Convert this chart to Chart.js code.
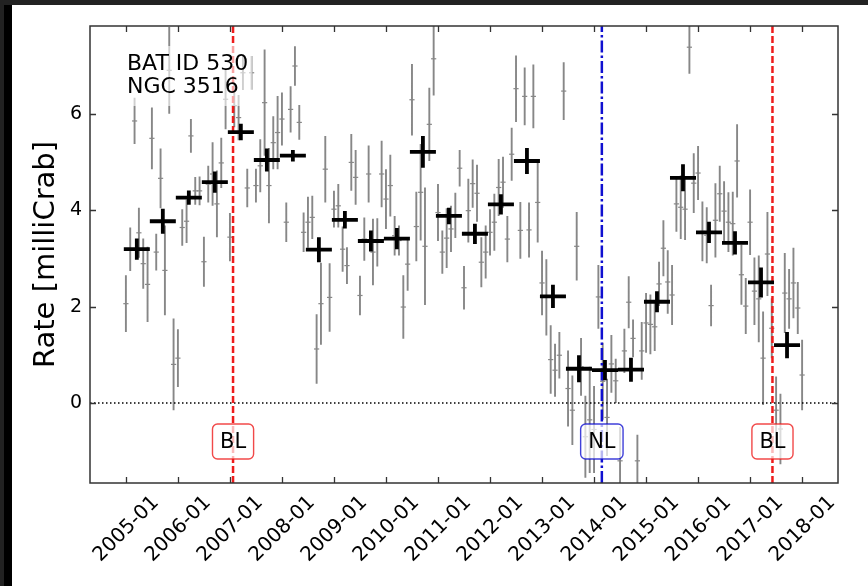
<!DOCTYPE html>
<html>
<head>
<meta charset="utf-8">
<script src="https://cdn.jsdelivr.net/npm/chart.js@4.4.1/dist/chart.umd.min.js"></script>
<style>
  html, body { margin: 0; padding: 0; background: #fff; }
  #wrap { position: relative; width: 868px; height: 586px; overflow: hidden; background: #fff; }
  .edge { position: absolute; }
  #topEdge { left: 0; top: 0; width: 868px; height: 5px; background: #222; }
  #leftEdge { left: 0; top: 0; width: 4px; height: 586px; background: #222; }
  #leftBar { left: 4px; top: 5px; width: 8px; height: 581px; background: #000; }
  canvas { position: absolute; left: 0; top: 0; }
</style>
</head>
<body>
<div id="wrap">
  <div class="edge" id="topEdge"></div>
  <div class="edge" id="leftEdge"></div>
  <div class="edge" id="leftBar"></div>
  <canvas id="lightCurve" width="868" height="586"></canvas>
</div>
<script>
const FONT = "'DejaVu Sans', 'Liberation Sans', sans-serif";

// monthly rates, first month is 2005-01
const monthStart = 2005.0;
const monthRate = [
  2.06, 3.19, 5.85, 3.53, 2.89, 2.46, 5.49, 3.13, 4.66, 2.75, 6.90, 0.80,
  0.93, 3.64, 3.77, 5.54, 4.40, 4.40, 2.93, 4.54, 4.75, 4.13, 4.98, 6.30,
  3.44, 6.17, 5.92, 6.85, 4.46, 6.85, 4.51, 4.92, 6.23, 4.51, 5.40, 5.61,
  5.89, 3.75, 6.09, 6.99, 5.82, 3.54, 3.75, 3.85, 1.12, 2.06, 4.85, 2.19,
  4.02, 4.09, 3.19, 2.85, 4.99, 4.68, 2.23, 3.40, 4.75, 3.13, 3.33, 4.75,
  4.23, 4.51, 3.47, 3.37, 1.99, 2.88, 6.29, 3.66, 4.37, 3.25, 5.78, 7.14,
  3.95, 3.13, 3.42, 3.61, 3.89, 4.87, 2.39, 3.99, 4.55, 4.35, 2.92, 3.13,
  3.54, 3.75, 4.47, 4.58, 3.40, 5.16, 6.52, 3.58, 6.36, 3.59, 6.36, 4.16,
  2.49, 2.19, 0.90, 0.68, 0.99, 6.47, 0.30, -0.15, 3.25, 0.75, -0.70, -0.35,
  -0.55, 2.20, 0.45, -0.30, 0.81, 0.46, -1.20, 1.08, 2.09, 1.34, -1.20, 1.08,
  1.66, 1.63, 1.58, 2.47, 3.21, 2.51, 2.24, 4.13, 4.06, 4.02, 7.38, 4.56,
  4.77, 3.56, 3.48, 2.02, 3.79, 4.34, 3.98, 3.75, 3.72, 5.02, 2.66, 2.01,
  3.75, 2.32, 2.16, 0.93, 3.09, 1.55, -0.15, -0.54, 2.28, 2.16, 2.49, 1.97,
  0.58
];
const monthErr = [
  0.59, 0.45, 0.48, 0.52, 0.52, 0.78, 0.64, 0.38, 0.62, 0.93, 0.90, 0.95,
  0.60, 0.38, 0.45, 0.35, 0.29, 0.30, 0.52, 0.38, 0.66, 0.69, 0.52, 0.62,
  0.50, 0.45, 0.47, 0.36, 0.40, 0.35, 0.35, 0.55, 1.10, 0.78, 0.55, 0.76,
  0.55, 0.41, 0.48, 0.41, 0.36, 0.41, 0.53, 0.45, 0.72, 0.85, 0.69, 0.71,
  0.38, 0.45, 0.47, 0.38, 0.59, 0.57, 0.41, 0.45, 0.59, 0.69, 0.50, 0.69,
  0.62, 0.64, 0.41, 0.31, 0.66, 0.55, 0.74, 0.72, 1.00, 1.22, 0.76, 0.76,
  0.59, 0.45, 0.62, 0.48, 0.47, 0.38, 0.45, 0.66, 0.50, 0.59, 0.52, 0.55,
  0.48, 0.59, 0.59, 0.53, 0.48, 0.55, 0.69, 0.59, 0.60, 0.57, 0.66, 0.83,
  0.67, 0.79, 0.71, 0.55, 0.48, 0.60, 0.79, 0.72, 0.71, 0.60, 0.85, 1.10,
  0.90, 0.66, 0.80, 0.80, 0.60, 0.46, 0.70, 0.46, 0.54, 0.39, 0.54, 0.60,
  0.62, 0.62, 0.50, 0.46, 0.58, 0.66, 0.62, 0.58, 0.66, 0.64, 0.55, 0.62,
  0.56, 0.62, 0.58, 0.43, 0.77, 0.58, 0.62, 0.62, 0.66, 0.76, 0.62, 0.58,
  0.68, 0.70, 0.90, 0.97, 0.87, 0.62, 0.70, 0.73, 0.83, 0.62, 0.73, 0.54,
  0.73
];

// six-month averages (bin centre in decimal years)
const binYear = [
  2005.21, 2005.71, 2006.21, 2006.71, 2007.21, 2007.71, 2008.21, 2008.71,
  2009.21, 2009.71, 2010.21, 2010.71, 2011.21, 2011.71, 2012.21, 2012.71,
  2013.21, 2013.71, 2014.21, 2014.71, 2015.21, 2015.71, 2016.21, 2016.71,
  2017.21, 2017.71
];
const binRate = [
  3.19, 3.77, 4.26, 4.58, 5.62, 5.04, 5.13, 3.18, 3.80, 3.36, 3.41, 5.21,
  3.88, 3.51, 4.12, 5.02, 2.21, 0.71, 0.68, 0.69, 2.10, 4.67, 3.54, 3.32,
  2.50, 1.20
];
const binErr = [
  0.22, 0.26, 0.15, 0.22, 0.17, 0.24, 0.12, 0.26, 0.18, 0.22, 0.22, 0.33,
  0.17, 0.21, 0.21, 0.27, 0.24, 0.28, 0.21, 0.25, 0.22, 0.28, 0.22, 0.24,
  0.31, 0.27
];
const binHalfWidth = 0.25;

const xTicks = [2005, 2006, 2007, 2008, 2009, 2010, 2011, 2012, 2013, 2014, 2015, 2016, 2017, 2018];
const yTicks = [0, 2, 4, 6];
const xRange = [2004.31, 2018.69];
const yRange = [-1.66, 7.82];

// state changes
const eventYear = [2007.06, 2014.15, 2017.43];
const eventLabel = ["BL", "NL", "BL"];
const eventColor = ["#ee1c1c", "#1010d0", "#ee1c1c"];
const eventDash = [[7, 3], [12, 3, 2.5, 3], [7, 3]];
const eventLabelRate = -0.80;

const infoLines = ["BAT ID 530", "NGC 3516"];

const monthYear = monthRate.map((_, i) => monthStart + i / 12);

// turn [x0, y0, x1, y1] pieces into one broken polyline
function segments(pieces) {
  const pts = [];
  pieces.forEach(([x0, y0, x1, y1]) => {
    pts.push({ x: x0, y: y0 }, { x: x1, y: y1 }, { x: x1, y: null });
  });
  return pts;
}

const lineDefaults = { showLine: true, pointRadius: 0, spanGaps: false, borderCapStyle: "butt", tension: 0 };

const datasets = [
  {
    ...lineDefaults,
    data: segments(monthYear.map((t, i) => [t, monthRate[i] - monthErr[i], t, monthRate[i] + monthErr[i]])),
    borderColor: "#878787", borderWidth: 1.9, order: 6,
  },
  {
    data: monthYear.map((t, i) => ({ x: t, y: monthRate[i] })),
    pointStyle: "line", pointRadius: 2.6, borderColor: "#878787", borderWidth: 1.2, order: 5,
  },
  {
    ...lineDefaults,
    data: [{ x: xRange[0], y: 0 }, { x: xRange[1], y: 0 }],
    borderColor: "#000", borderWidth: 1.3, borderDash: [1.5, 2.5], order: 4,
  },
  ...eventYear.map((t, k) => ({
    ...lineDefaults,
    data: [{ x: t, y: yRange[0] }, { x: t, y: yRange[1] }],
    borderColor: eventColor[k], borderWidth: 2.5, borderDash: eventDash[k], order: 3,
  })),
  {
    ...lineDefaults,
    data: segments(binYear.map((t, i) => [t, binRate[i] - binErr[i], t, binRate[i] + binErr[i]])),
    borderColor: "#000", borderWidth: 3.8, order: 1,
  },
  {
    ...lineDefaults,
    data: segments(binYear.map((t, i) => [t - binHalfWidth, binRate[i], t + binHalfWidth, binRate[i]])),
    borderColor: "#000", borderWidth: 3.8, order: 1,
  },
];

// frame, inward ticks, source name and state labels
const overlay = {
  id: "overlay",
  afterDatasetsDraw(chart) {
    const { ctx, chartArea: a, scales: { x, y } } = chart;
    ctx.save();

    // source name in a faint white box
    ctx.font = `22px ${FONT}`;
    ctx.textBaseline = "alphabetic";
    ctx.textAlign = "left";
    const tx = a.left + 37, ty = a.top + 44;
    const w = Math.max(...infoLines.map((s) => ctx.measureText(s).width));
    ctx.fillStyle = "rgba(255,255,255,0.6)";
    ctx.fillRect(tx - 4, ty - 24, w + 8, 60);
    ctx.fillStyle = "#000";
    infoLines.forEach((s, i) => ctx.fillText(s, tx, ty + i * 23));

    // BL / NL boxes
    ctx.font = `21px ${FONT}`;
    ctx.textAlign = "center";
    ctx.textBaseline = "middle";
    eventYear.forEach((t, k) => {
      const cx = x.getPixelForValue(t);
      const cy = y.getPixelForValue(eventLabelRate);
      const bw = ctx.measureText(eventLabel[k]).width + 15;
      const bh = 35;
      ctx.beginPath();
      ctx.roundRect(cx - bw / 2, cy - bh / 2, bw, bh, 5);
      ctx.fillStyle = "rgba(255,255,255,0.7)";
      ctx.fill();
      ctx.lineWidth = 1.4;
      ctx.strokeStyle = eventColor[k];
      ctx.globalAlpha = 0.8;
      ctx.stroke();
      ctx.globalAlpha = 1;
      ctx.fillStyle = "#000";
      ctx.fillText(eventLabel[k], cx, cy + 1);
    });

    // axes frame with ticks pointing in on every side
    ctx.strokeStyle = "#333";
    ctx.lineWidth = 1.3;
    ctx.beginPath();
    xTicks.forEach((v) => {
      const px = Math.round(x.getPixelForValue(v)) + 0.5;
      ctx.moveTo(px, a.bottom); ctx.lineTo(px, a.bottom - 6);
      ctx.moveTo(px, a.top); ctx.lineTo(px, a.top + 6);
    });
    yTicks.forEach((v) => {
      const py = Math.round(y.getPixelForValue(v)) + 0.5;
      ctx.moveTo(a.left, py); ctx.lineTo(a.left + 6, py);
      ctx.moveTo(a.right, py); ctx.lineTo(a.right - 6, py);
    });
    ctx.stroke();
    ctx.lineWidth = 1.5;
    ctx.strokeRect(a.left, a.top, a.right - a.left, a.bottom - a.top);
    ctx.restore();
  },
};

new Chart(document.getElementById("lightCurve"), {
  type: "scatter",
  data: { datasets },
  options: {
    responsive: false,
    devicePixelRatio: 1,
    animation: false,
    events: [],
    layout: { padding: { left: 0, top: 26, right: 30, bottom: 0 } },
    plugins: { legend: { display: false }, tooltip: { enabled: false } },
    scales: {
      x: {
        type: "linear",
        min: xRange[0],
        max: xRange[1],
        grid: { display: false, drawTicks: false },
        border: { display: false },
        afterBuildTicks: (s) => { s.ticks = xTicks.map((v) => ({ value: v })); },
        afterFit: (s) => { s.height = 103; },
        ticks: {
          autoSkip: false,
          minRotation: 45,
          maxRotation: 45,
          padding: 8,
          labelOffset: 30,
          color: "#000",
          font: { family: FONT, size: 20 },
          callback: (v) => `${v}-01`,
        },
      },
      y: {
        min: yRange[0],
        max: yRange[1],
        grid: { display: false, drawTicks: false },
        border: { display: false },
        afterBuildTicks: (s) => { s.ticks = yTicks.map((v) => ({ value: v })); },
        afterFit: (s) => { s.width = 90; },
        ticks: { padding: 8, color: "#000", font: { family: FONT, size: 19 } },
        title: {
          display: true,
          text: "Rate [milliCrab]",
          color: "#000",
          font: { family: FONT, size: 29 },
          padding: { top: 29 },
        },
      },
    },
  },
  plugins: [overlay],
});
</script>
</body>
</html>
